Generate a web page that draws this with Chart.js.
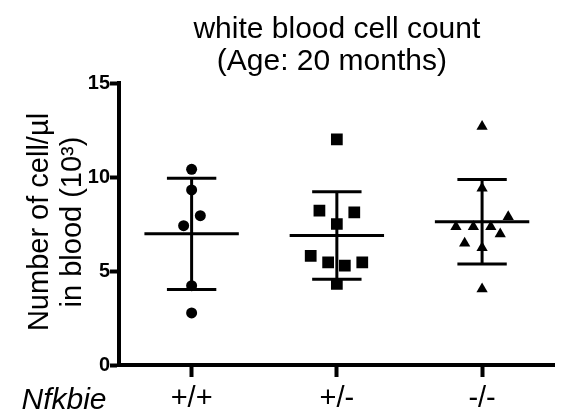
<!DOCTYPE html>
<html>
<head>
<meta charset="utf-8">
<title>white blood cell count</title>
<script src="https://cdn.jsdelivr.net/npm/chart.js@4.4.1/dist/chart.umd.min.js"></script>
<style>
  html, body { margin: 0; padding: 0; background: #fff; }
</style>
</head>
<body>
<canvas id="wbcChart" width="563" height="420"></canvas>
<script>
'use strict';

/* ── DATA ── */
const genotypes = ['+/+', '+/-', '-/-'];
const yTicks = [0, 5, 10, 15];

// individual animals (x 10^3 cells/µl) and their horizontal scatter
const wtValues  = [10.41, 9.31, 7.94, 7.41, 4.22, 2.77];
const wtJitter  = [0, 0, 0.06, -0.055, 0, 0];
const hetValues = [12.0, 8.21, 8.12, 7.50, 5.80, 5.46, 5.28, 5.46, 4.32];
const hetJitter = [0, -0.12, 0.12, 0, -0.18, -0.06, 0.055, 0.175, 0];
const koValues  = [12.68, 9.40, 7.89, 7.36, 7.36, 7.36, 6.97, 6.47, 6.24, 4.04];
const koJitter  = [0, 0, 0.18, -0.18, -0.06, 0.06, 0.125, -0.12, 0, 0];

const groupMeans = [6.98, 6.89, 7.62];
const groupSDs   = [2.96, 2.33, 2.25];

/* ── STYLE ── */
const FONT = "'Liberation Sans', Arial, sans-serif";
const INK = '#000';
const MEAN_HALF = 0.325;
const CAP_HALF = 0.17;

/* ── DATASETS ── */
const markerSets = [
  { values: wtValues,  jitter: wtJitter,  style: 'circle',   radius: 5.5 },
  { values: hetValues, jitter: hetJitter, style: 'rect',     radius: 8.3 },
  { values: koValues,  jitter: koJitter,  style: 'triangle', radius: 6.5 },
];

const datasets = markerSets.map((m, g) => ({
  label: genotypes[g],
  data: m.values.map((v, i) => ({ x: g + 1 + m.jitter[i], y: v })),
  pointStyle: m.style,
  pointRadius: m.radius,
  pointHoverRadius: m.radius,
  backgroundColor: INK,
  borderWidth: 0,
  order: 1,
}));

// mean line + SD whiskers with caps, one dataset per segment
groupMeans.forEach((mean, g) => {
  const x = g + 1;
  const sd = groupSDs[g];
  const segments = [
    [{ x: x - MEAN_HALF, y: mean }, { x: x + MEAN_HALF, y: mean }],
    [{ x, y: mean - sd }, { x, y: mean + sd }],
    [{ x: x - CAP_HALF, y: mean + sd }, { x: x + CAP_HALF, y: mean + sd }],
    [{ x: x - CAP_HALF, y: mean - sd }, { x: x + CAP_HALF, y: mean - sd }],
  ];
  segments.forEach(seg => datasets.push({
    data: seg,
    showLine: true,
    borderColor: INK,
    borderWidth: 3,
    borderCapStyle: 'butt',
    pointRadius: 0,
    order: 2,
  }));
});

/* ── TEXT (titles) ── */
const annotations = {
  id: 'annotations',
  afterDraw(chart) {
    const { ctx, chartArea } = chart;
    const midX = (chartArea.left + chartArea.right) / 2;
    ctx.save();
    ctx.fillStyle = INK;
    ctx.textAlign = 'center';
    ctx.textBaseline = 'middle';
    ctx.font = `30px ${FONT}`;
    ctx.fillText('white blood cell count', midX, 30);
    ctx.fillText('(Age: 20 months)', midX - 5, 62);

    ctx.save();
    ctx.translate(0, 222);
    ctx.rotate(-Math.PI / 2);
    ctx.font = `29px ${FONT}`;
    ctx.fillText('Number of cell/µl', 0, 40);
    ctx.fillText('in blood (10³)', 0, 73);
    ctx.restore();

    ctx.font = `italic 30px ${FONT}`;
    ctx.fillText('Nfkbie', 64, 401);
    ctx.restore();
  },
};

/* ── CHART ── */
new Chart(document.getElementById('wbcChart'), {
  type: 'scatter',
  data: { datasets },
  plugins: [annotations],
  options: {
    responsive: false,
    animation: false,
    layout: { padding: { top: 83, left: 79, right: 0, bottom: 0 } },
    plugins: {
      legend: { display: false },
      tooltip: { enabled: false },
    },
    scales: {
      x: {
        type: 'linear',
        min: 0.5,
        max: 3.5,
        afterBuildTicks: scale => { scale.ticks = genotypes.map((_, i) => ({ value: i + 1 })); },
        afterFit: scale => { scale.height = 55; },
        ticks: {
          callback: v => genotypes[v - 1],
          color: INK,
          font: { family: FONT, size: 29 },
          padding: 5,
        },
        grid: { drawOnChartArea: false, tickLength: 12, tickWidth: 4, tickColor: INK },
        border: { color: INK, width: 4 },
      },
      y: {
        min: 0,
        max: 15,
        afterBuildTicks: scale => { scale.ticks = yTicks.map(v => ({ value: v })); },
        afterFit: scale => { scale.width = 40; },
        ticks: {
          color: INK,
          font: { family: FONT, size: 20, weight: 'bold' },
          padding: 0,
        },
        grid: { drawOnChartArea: false, tickLength: 9, tickWidth: 4, tickColor: INK },
        border: { color: INK, width: 4 },
      },
    },
  },
});
</script>
</body>
</html>
